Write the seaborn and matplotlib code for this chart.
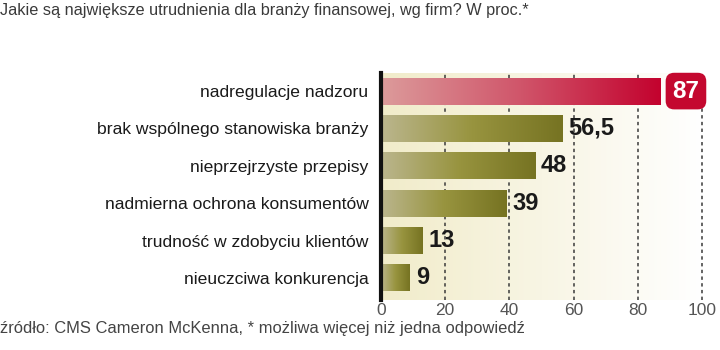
import numpy as np
import pandas as pd
import matplotlib.pyplot as plt
from matplotlib.colors import LinearSegmentedColormap
import seaborn as sns

# dane z wykresu (proc.)
categories = ['nadregulacje nadzoru', 'brak wspólnego stanowiska branży',
              'nieprzejrzyste przepisy', 'nadmierna ochrona konsumentów',
              'trudność w zdobyciu klientów', 'nieuczciwa konkurencja']
values = [87, 56.5, 48, 39, 13, 9]
value_labels = ['87', '56,5', '48', '39', '13', '9']
x_ticks = [0, 20, 40, 60, 80, 100]

title = 'Jakie są największe utrudnienia dla branży finansowej, wg firm? W proc.*'
source = 'źródło: CMS Cameron McKenna, * możliwa więcej niż jedna odpowiedź'

sns.set_theme(style='white')
plt.rcParams['font.family'] = ['Liberation Sans', 'DejaVu Sans']

fig = plt.figure(figsize=(7.2, 3.5), dpi=100)
ax = fig.add_axes([0.529, 0.143, 0.446, 0.648])

df = pd.DataFrame({'kategoria': categories, 'proc': values})
sns.barplot(data=df, x='proc', y='kategoria', orient='h', width=0.72,
            color='#7a7828', ax=ax, zorder=3)

ylim = (5.59, -0.48)
xlim = (0, 100)

# gradient tla
bg_cmap = LinearSegmentedColormap.from_list('bg', ['#f1ecca', '#f8f5e4', '#ffffff'])
grad = np.linspace(0, 1, 256).reshape(1, -1)
ax.imshow(grad, cmap=bg_cmap, extent=[0, 100, ylim[0], ylim[1]],
          aspect='auto', zorder=0, interpolation='bicubic')

# gradient slupkow
olive = LinearSegmentedColormap.from_list('olive', ['#bbb68e', '#98943f', '#767322'])
red = LinearSegmentedColormap.from_list('red', ['#dc9b9b', '#d0556a', '#c3022e'])
for i, p in enumerate(ax.patches):
    x0, y0 = p.get_x(), p.get_y()
    w, h = p.get_width(), p.get_height()
    p.set_facecolor('none')
    p.set_edgecolor('none')
    im = ax.imshow(grad, cmap=red if i == 0 else olive,
                   extent=[x0, x0 + w, y0 + h, y0], aspect='auto',
                   zorder=3, interpolation='bicubic')
    im.set_clip_path(p)

# siatka
for t in x_ticks[1:]:
    ax.plot([t, t], [ylim[0], ylim[1]], color='#3a3a3a', lw=1.1,
            linestyle=(0, (2.2, 2.2)), zorder=2, clip_on=False)

# etykiety wartosci
for i, (v, lab) in enumerate(zip(values, value_labels)):
    if i == 0:
        ax.text(v + 3.8, i, lab, ha='left', va='center', fontsize=17.5,
                fontweight='bold', color='white', zorder=5, clip_on=False,
                bbox=dict(boxstyle='round,pad=0.28,rounding_size=0.35',
                          fc='#c4082f', ec='none'))
    else:
        ax.text(v + 1.9, i, lab, ha='left', va='center', fontsize=17,
                fontweight='bold', color='#1a1a1a', zorder=5)

ax.set_xlim(xlim)
ax.set_ylim(ylim)
ax.set_xticks(x_ticks)
ax.set_xlabel('')
ax.set_ylabel('')
ax.tick_params(axis='x', length=0, pad=2, labelsize=12.5, labelcolor='#555555')
ax.tick_params(axis='y', length=0, pad=9, labelsize=12.6, labelcolor='#1a1a1a')
for s in ['top', 'right', 'bottom']:
    ax.spines[s].set_visible(False)
ax.spines['left'].set_color('#111111')
ax.spines['left'].set_linewidth(3)
ax.spines['left'].set_zorder(6)

fig.text(0.0, 0.99, title, ha='left', va='top', fontsize=11.7, color='#3a3a3a')
fig.text(0.0, 0.04, source, ha='left', va='bottom', fontsize=11.9, color='#444444')

fig.savefig('out.png', dpi=100)
